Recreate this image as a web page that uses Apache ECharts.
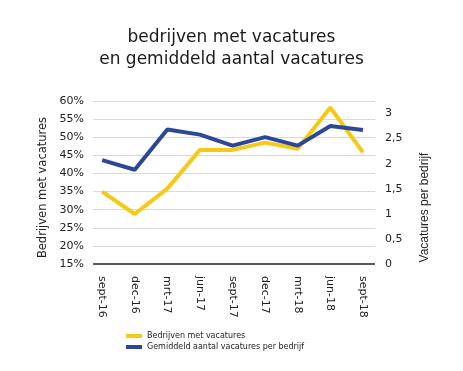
<!DOCTYPE html>
<html><head><meta charset="utf-8">
<script src="https://cdn.jsdelivr.net/npm/echarts@6/dist/echarts.min.js"></script>
<style>html,body{margin:0;padding:0;background:#fff}#c{width:463px;height:371px}</style>
</head><body><div id="c"></div>
<script>
const categories = ['sept-16','dec-16','mrt-17','jun-17','sept-17','dec-17','mrt-18','jun-18','sept-18'];
const bedrijvenMetVacatures = [35.0, 28.8, 35.8, 46.5, 46.5, 48.5, 46.8, 58.2, 45.8];
const gemiddeldAantal = [2.07, 1.88, 2.68, 2.58, 2.36, 2.53, 2.36, 2.75, 2.67];
const leftTicks = [15,20,25,30,35,40,45,50,55,60];
const rightTicks = [0,0.5,1,1.5,2,2.5,3];

const chart = echarts.init(document.getElementById('c'));
const idx = categories.map((_, i) => i);
chart.setOption({
  animation: false,
  title: {
    text: 'bedrijven met vacatures\nen gemiddeld aantal vacatures',
    left: 'center', top: 22,
    textStyle: { fontFamily: 'DejaVu Sans', fontSize: 17, fontWeight: 'normal', color: '#1a1a1a', lineHeight: 22 }
  },
  legend: {
    orient: 'vertical', left: 121, top: 327, itemGap: 3,
    itemWidth: 16, itemHeight: 4, icon: 'rect',
    textStyle: { fontFamily: 'DejaVu Sans', fontSize: 8, color: '#222' },
    data: ['Bedrijven met vacatures', 'Gemiddeld aantal vacatures per bedrijf']
  },
  grid: { left: 93, right: 88, top: 101, bottom: 107 },
  xAxis: {
    type: 'value', min: -0.28, max: 8.37,
    axisLine: { show: false },
    splitLine: { show: false },
    axisTick: { show: false },
    axisLabel: {
      customValues: idx, rotate: -90, margin: 12,
      fontFamily: 'DejaVu Sans', fontSize: 11, color: '#222',
      formatter: v => categories[Math.round(v)]
    }
  },
  yAxis: [{
    type: 'value', min: leftTicks[0], max: leftTicks[leftTicks.length-1], interval: 5,
    name: 'Bedrijven met vacatures', nameLocation: 'middle', nameGap: 41,
    nameTextStyle: { fontFamily: 'DejaVu Sans', fontSize: 11.5, color: '#222', padding: [0, 10, 0, 0] },
    axisLine: { show: false }, axisTick: { show: false },
    axisLabel: { margin: 9, fontFamily: 'DejaVu Sans', fontSize: 11, color: '#222', formatter: '{value}%' },
    splitLine: { lineStyle: { color: '#d9d9d9', width: 1 } }
  }, {
    type: 'value', min: rightTicks[0], max: 3.25, interval: 0.5,
    name: 'Vacatures per bedrijf', nameLocation: 'middle', nameGap: 44,
    nameTextStyle: { fontFamily: 'Liberation Sans', fontSize: 12, color: '#222', padding: [0, 50, 0, 0] },
    axisLine: { show: false }, axisTick: { show: false },
    axisLabel: { margin: 10, showMaxLabel: false, fontFamily: 'DejaVu Sans', fontSize: 11, color: '#222',
      formatter: v => String(v).replace('.', ',') },
    splitLine: { show: false }
  }],
  series: [{
    name: 'Bedrijven met vacatures', type: 'line', yAxisIndex: 0,
    data: bedrijvenMetVacatures.map((v, i) => [i, v]),
    symbol: 'none', lineStyle: { color: '#F5C918', width: 4 }, itemStyle: { color: '#F5C918' }, z: 3
  }, {
    name: 'Gemiddeld aantal vacatures per bedrijf', type: 'line', yAxisIndex: 1,
    data: gemiddeldAantal.map((v, i) => [i, v]),
    symbol: 'none', lineStyle: { color: '#2B4798', width: 4 }, itemStyle: { color: '#2B4798' }, z: 4
  }, {
    type: 'line', yAxisIndex: 0, silent: true, symbol: 'none', z: 2,
    data: [], markLine: { symbol: 'none', silent: true, label: { show: false },
      lineStyle: { color: '#595959', width: 2, type: 'solid' }, data: [{ yAxis: leftTicks[0] }] }
  }]
});
</script></body></html>
